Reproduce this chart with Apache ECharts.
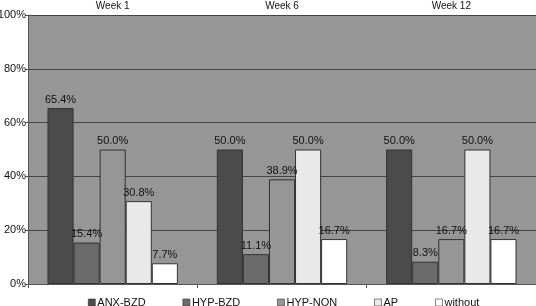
<!DOCTYPE html>
<html>
<head>
<meta charset="utf-8">
<script src="https://cdn.jsdelivr.net/npm/echarts@6/dist/echarts.min.js"></script>
<style>
  html, body { margin: 0; padding: 0; background: #fff; }
  #chart { width: 536px; height: 306px; }
</style>
</head>
<body>
<div id="chart"></div>
<script>
var weeks = ["Week 1", "Week 6", "Week 12"];
var seriesNames = ["ANX-BZD", "HYP-BZD", "HYP-NON", "AP", "without"];
var anxBzd = [65.4, 50.0, 50.0];
var hypBzd = [15.4, 11.1, 8.3];
var hypNon = [50.0, 38.9, 16.7];
var ap = [30.8, 50.0, 50.0];
var without = [7.7, 16.7, 16.7];
var yTicks = [0, 20, 40, 60, 80, 100];

var values = [anxBzd, hypBzd, hypNon, ap, without];
var colors = ["#4b4b4b", "#6b6b6b", "#969696", "#e9e9e9", "#ffffff"];

var mychart = echarts.init(document.getElementById("chart"));
var option = {
  animation: false,
  textStyle: { fontFamily: "Liberation Sans, Arial, sans-serif" },
  grid: {
    left: 28,
    right: 0,
    top: 15,
    bottom: 22,
    outerBoundsMode: "none",
    containLabel: false,
    show: true,
    backgroundColor: "#969696",
    borderWidth: 0
  },
  legend: {
    data: seriesNames,
    top: 292,
    left: 83,
    itemGap: 37,
    itemWidth: 7,
    itemHeight: 7,
    icon: "rect",
    itemStyle: { borderWidth: 0.6, borderColor: "#333" },
    textStyle: { color: "#111", fontSize: 11, padding: [0, 0, 0, -3] }
  },
  xAxis: [
    {
      type: "category",
      data: weeks,
      position: "top",
      axisLine: { show: false },
      axisTick: { show: false },
      axisLabel: { color: "#111", fontSize: 10, margin: 4 }
    },
    {
      type: "category",
      data: weeks,
      position: "bottom",
      axisLine: { show: true, lineStyle: { color: "#555", width: 1 } },
      axisTick: { show: true, length: 4, lineStyle: { color: "#555" } },
      axisLabel: { show: false }
    }
  ],
  yAxis: {
    type: "value",
    min: yTicks[0],
    max: yTicks[yTicks.length - 1],
    interval: 20,
    axisLine: { show: true, lineStyle: { color: "#555" } },
    axisTick: { show: true, length: 3, lineStyle: { color: "#555" } },
    axisLabel: {
      color: "#111",
      fontSize: 11,
      margin: 2,
      formatter: function (v) { return v + "%"; }
    },
    splitLine: { lineStyle: { color: "#444", width: 1 } }
  },
  series: seriesNames.map(function (name, i) {
    return {
      name: name,
      type: "bar",
      xAxisIndex: 0,
      data: values[i],
      barGap: "0%",
      barCategoryGap: "23%",
      itemStyle: {
        color: colors[i],
        borderColor: "#333",
        borderWidth: 1
      },
      label: {
        show: true,
        position: "top",
        distance: 3,
        color: "#111",
        fontSize: 11,
        formatter: function (p) { return p.value.toFixed(1) + "%"; }
      }
    };
  })
};
mychart.setOption(option);
</script>
</body>
</html>
